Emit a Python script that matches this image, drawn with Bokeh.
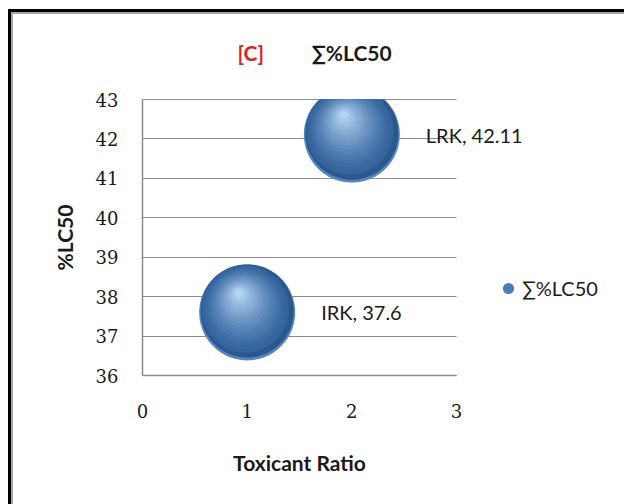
import math
from bokeh.plotting import figure
from bokeh.models import (Range1d, Label, LabelSet, Legend, LegendItem,
                          FixedTicker, ColumnDataSource)
from bokeh.core.properties import value
from bokeh.embed import file_html
from bokeh.resources import INLINE

# ---- data -------------------------------------------------------------
groups = ["IRK", "LRK"]
toxicant_ratio = [1, 2]
lc50 = [37.6, 42.11]
bubble_size = [1.0, 1.0]
series_name = "∑%LC50"
panel_tag = "[C]"
x_title = "Toxicant Ratio"
y_title = "%LC50"
x_ticks = [0, 1, 2, 3]
y_ticks = [36, 37, 38, 39, 40, 41, 42, 43]

# ---- layout -----------------------------------------------------------
W, H = 624, 504
PLOT_L, PLOT_T = 142, 99         # pixel position of the gridded plot area
PLOT_W, PLOT_H = 314, 276
X0, X1, Y0, Y1 = 0, 3, 36, 43
px_x = PLOT_W / (X1 - X0)
px_y = PLOT_H / (Y1 - Y0)
# the frame covers the whole canvas; axes sit at fixed data locations
x_start = X0 - PLOT_L / px_x
x_end = X1 + (W - PLOT_L - PLOT_W) / px_x
y_start = Y0 - (H - PLOT_T - PLOT_H) / px_y
y_end = Y1 + PLOT_T / px_y
R_MAX = 48  # bubble radius (px) for size 1.0

SANS = "Lato"
SERIF = "DejaVu Serif"
GRID = "#8c8c8c"
INK = "#1a1a1a"

p = figure(width=W, height=H, output_backend="svg", toolbar_location=None,
           x_range=Range1d(x_start, x_end), y_range=Range1d(y_start, y_end),
           min_border=0)
p.outline_line_color = None
p.background_fill_alpha = 0
p.border_fill_alpha = 0
# white page with the double-ruled chart border (top and left)
p.styles = {
    "background-color": "white",
    "background-image": ("linear-gradient(#000,#000), linear-gradient(#000,#000), "
                         "linear-gradient(#a6a6a6,#a6a6a6), linear-gradient(#a6a6a6,#a6a6a6)"),
    "background-size": "3px 495px, 616px 3px, 2px 492px, 613px 2px",
    "background-position": "8px 9px, 8px 9px, 11px 12px, 11px 12px",
    "background-repeat": "no-repeat",
}

# axes
p.xaxis.ticker = FixedTicker(ticks=x_ticks)
p.yaxis.ticker = FixedTicker(ticks=y_ticks)
p.xaxis.bounds = (X0, X1)
p.yaxis.bounds = (Y0, Y1)
p.xaxis.fixed_location = Y0
p.yaxis.fixed_location = X0
for ax in (p.xaxis[0], p.yaxis[0]):
    ax.axis_line_color = GRID
    ax.axis_line_width = 1.5
    ax.major_tick_line_color = None
    ax.minor_tick_line_color = None
    ax.major_tick_out = 0
    ax.major_tick_in = 0
    ax.major_label_text_font = SERIF
    ax.major_label_text_font_size = "18px"
    ax.major_label_text_color = INK
p.xaxis.major_label_standoff = 28
p.yaxis.major_label_standoff = 24

p.xgrid.grid_line_color = None
p.ygrid.ticker = FixedTicker(ticks=y_ticks)
p.ygrid.bounds = (Y0, Y1)
p.ygrid.cross_bounds = (X0, X1)
p.ygrid.grid_line_color = GRID
p.ygrid.grid_line_width = 1.2

# axis titles
p.add_layout(Label(x=(X0 + X1) / 2, y=Y0 - 87 / px_y, text=x_title,
                   text_align="center", text_baseline="middle",
                   text_font=SANS, text_font_size="21px", text_font_style="bold",
                   text_color=INK))
p.add_layout(Label(x=X0 - 78 / px_x, y=(Y0 + Y1) / 2, text=y_title, angle=math.pi / 2,
                   text_align="center", text_baseline="middle",
                   text_font=SANS, text_font_size="21px", text_font_style="bold",
                   text_color=INK))

# ---- shaded bubbles (cut at the top edge of the plot area) -------------
def lerp_hex(c0, c1, t):
    a = [int(c0[i:i + 2], 16) for i in (1, 3, 5)]
    b = [int(c1[i:i + 2], 16) for i in (1, 3, 5)]
    return "#%02x%02x%02x" % tuple(round(a[k] + (b[k] - a[k]) * t) for k in range(3))

def disc(cx, cy, r_px, n=120):
    """Polygon for a circle of r_px screen pixels centred on (cx, cy), cut at Y1."""
    xs, ys = [], []
    for k in range(n):
        a = 2 * math.pi * k / n
        xs.append(cx + r_px * math.cos(a) / px_x)
        ys.append(min(cy + r_px * math.sin(a) / px_y, Y1))
    return xs, ys

# (radius fraction, x offset fraction, y offset fraction (down +), colour)
layers = [(1.0, 0.0, 0.0, "#5686c2"), (0.97, 0.0, -0.03, "#2b578b")]
steps = 16
for i in range(steps):
    t = i / (steps - 1)
    r = 0.91 * (1 - t) + 0.08 * t
    ox = -0.04 * (1 - t) + -0.17 * t
    oy = -0.07 * (1 - t) + -0.40 * t
    col = lerp_hex("#34649d", "#b2d3f4", t ** 1.3)
    layers.append((r, ox, oy, col))

for frac, ox, oy, col in layers:
    polys_x, polys_y = [], []
    for x, y, s in zip(toxicant_ratio, lc50, bubble_size):
        cx = x + ox * s * R_MAX / px_x
        cy = y - oy * s * R_MAX / px_y
        px_, py_ = disc(cx, cy, frac * s * R_MAX)
        polys_x.append(px_)
        polys_y.append(py_)
    p.patches(xs=polys_x, ys=polys_y, fill_color=col, line_color=None)

# marker used for the legend entry
legend_marker = p.scatter(x=toxicant_ratio, y=lc50, marker="circle", size=11,
                          fill_color="#4a7dba", line_color=None, visible=False)

# ---- data labels ------------------------------------------------------
src = ColumnDataSource(dict(x=toxicant_ratio, y=lc50,
                            txt=[f"{g}, {v}" for g, v in zip(groups, lc50)]))
p.add_layout(LabelSet(x="x", y="y", text="txt", source=src,
                      x_offset=74, y_offset=0, text_baseline="middle",
                      text_font=value(SANS), text_font_size="20px", text_color=INK))

# ---- title ------------------------------------------------------------
title_y = Y1 + 47 / px_y
p.add_layout(Label(x=X0 + 95 / px_x, y=title_y, text=panel_tag,
                   text_baseline="middle", text_font=SANS, text_font_size="21px",
                   text_font_style="bold", text_color="#d8232a"))
p.add_layout(Label(x=X0 + 169 / px_x, y=title_y, text=series_name,
                   text_baseline="middle", text_font=SANS, text_font_size="21px",
                   text_font_style="bold", text_color=INK))

# ---- legend -----------------------------------------------------------
legend = Legend(items=[LegendItem(label=series_name, renderers=[legend_marker])],
                location=(494, 202), padding=0, margin=0, spacing=0,
                glyph_width=28, glyph_height=28, label_standoff=0,
                border_line_color=None, background_fill_alpha=0,
                label_text_font=SANS, label_text_font_size="20px",
                label_text_color=INK)
p.add_layout(legend, "center")

open("out.html", "w").write(file_html(p, INLINE))
